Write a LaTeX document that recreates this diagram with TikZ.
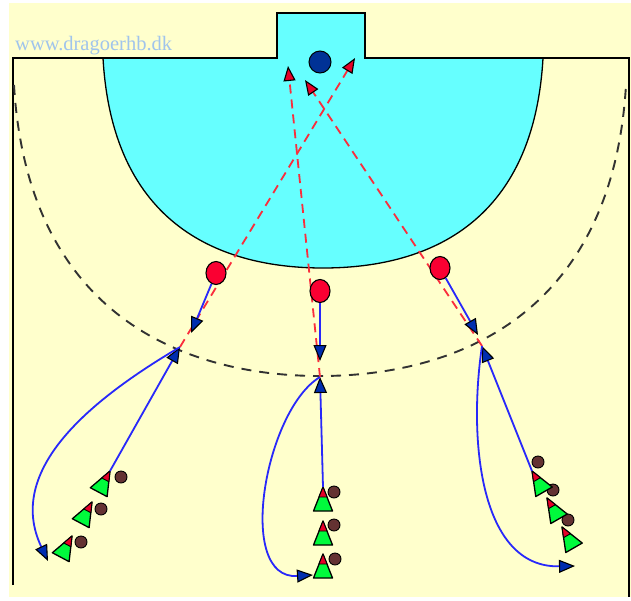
\documentclass[tikz,border=0pt]{standalone}
\usepackage{fontspec}
\setmainfont{Liberation Serif}
\usetikzlibrary{arrows.meta,shapes.geometric}
\definecolor{fieldyellow}{RGB}{255,255,204}
\definecolor{areacyan}{RGB}{102,255,255}
\definecolor{webblue}{RGB}{160,196,236}
\definecolor{runblue}{RGB}{40,40,250}
\definecolor{tipblue}{RGB}{0,45,175}
\definecolor{passred}{RGB}{250,45,60}
\definecolor{shotred}{RGB}{230,0,40}
\definecolor{backred}{RGB}{250,0,50}
\definecolor{bodygreen}{RGB}{0,250,60}
\definecolor{headbrown}{RGB}{100,50,50}
\definecolor{balldark}{RGB}{0,50,150}
\definecolor{arcgray}{RGB}{50,50,50}

\tikzset{
  player/.pic={
    \begin{scope}[rotate=#1]
      \draw[fill=bodygreen,line width=1.3pt,line join=round] (0,0) -- (-9.5,24) -- (9.5,24) -- cycle;
      \draw[fill=shotred,line width=0.9pt,line join=round] (0,0) -- (-4,10) -- (4,10) -- cycle;
      \coordinate (-apex) at (0,0);
    \end{scope}
  }
}

\begin{document}
\begin{tikzpicture}[x=1pt,y=-1pt,
    runline/.style={line width=1.8pt,runblue,-{Triangle[length=16pt,width=13pt,fill=tipblue,color=black,line width=1.1pt]}},
    passline/.style={line width=1.8pt,passred,dash pattern=on 9pt off 6pt,-{Triangle[length=15pt,width=12pt,fill=shotred,color=black,line width=1.1pt]}},
    back/.style={ellipse,draw=black,line width=1.1pt,fill=backred,minimum width=20pt,minimum height=23pt,inner sep=0pt},
    head/.style={circle,draw=black,line width=0.9pt,fill=headbrown,minimum size=12pt,inner sep=0pt}]
  \useasboundingbox (0,0) rectangle (631,600);
  \fill[white] (0,0) rectangle (631,600);
  \fill[fieldyellow] (9,3) rectangle (631,597);

  % goal area and goal
  \fill[areacyan] (103,58) .. controls (113,235) and (233,268) .. (323,268)
    .. controls (413,268) and (533,235) .. (543,58) -- cycle;
  \draw[line width=1.3pt] (103,58) .. controls (113,235) and (233,268) .. (323,268)
    .. controls (413,268) and (533,235) .. (543,58);
  \fill[areacyan] (277,13) rectangle (365,60);
  \draw[line width=1.7pt] (13,585) -- (13,58) -- (277,58) -- (277,13) -- (365,13) -- (365,58) -- (629,58) -- (629,597);
  \node[anchor=base west,inner sep=0pt,text=webblue,font=\fontsize{20.5}{22}\selectfont] (web) at (15,50) {www.dragoerhb.dk};

  % free throw line
  \draw[arcgray,line width=1.9pt,dash pattern=on 10pt off 8pt] (14,85) .. controls (28,320) and (190,376) .. (320,376)
    .. controls (450,376) and (612,320) .. (626,85);

  \node[circle,draw=black,line width=1pt,fill=balldark,minimum size=22pt,inner sep=0pt] (ball) at (320,62) {};

  \coordinate (crossL) at (180,347);
  \coordinate (crossC) at (320,377);
  \coordinate (crossR) at (482,346);
  \coordinate (shotA) at (355,58);
  \coordinate (shotB) at (305,80);
  \coordinate (shotC) at (288,66);
  \coordinate (runL) at (191,333);
  \coordinate (runC) at (320,361);
  \coordinate (runR) at (478,335);
  \coordinate (endL) at (48,561);
  \coordinate (endC) at (313,575);
  \coordinate (endR) at (575,566);

  % passes to the shooters
  \draw[passline] (crossL) -- (shotA);
  \draw[passline] (crossR) -- (shotB);
  \draw[passline] (crossC) -- (shotC);

  % back court players
  \node[back] (backL) at (216,273) {};
  \node[back] (backC) at (320,291) {};
  \node[back] (backR) at (440,268) {};
  \draw[runline] (backL) -- (runL);
  \draw[runline] (backC) -- (runC);
  \draw[runline] (backR) -- (runR);

  % lines of players
  \node[head] (hL1) at (121,477) {};
  \node[head] (hL2) at (101,509) {};
  \node[head] (hL3) at (81,542) {};
  \pic (pL1) at (110,471) {player=-28};
  \pic (pL2) at (92,502) {player=-28};
  \pic (pL3) at (72,536) {player=-28};
  \node[head] (hC1) at (334,492) {};
  \node[head] (hC2) at (334,525) {};
  \node[head] (hC3) at (335,559) {};
  \pic (pC1) at (323,487) {player=0};
  \pic (pC2) at (323,521) {player=0};
  \pic (pC3) at (323,554) {player=0};
  \node[head] (hR1) at (538,462) {};
  \node[head] (hR2) at (553,490) {};
  \node[head] (hR3) at (568,520) {};
  \pic (pR1) at (532,471) {player=30};
  \pic (pR2) at (547,498) {player=30};
  \pic (pR3) at (562,527) {player=30};

  % runs
  \draw[runline] (pL1-apex) -- (crossL);
  \draw[runline] (pC1-apex) -- (crossC);
  \draw[runline] (pR1-apex) -- (crossR);
  \draw[runline] (crossL) .. controls (90,400) and (5,470) .. (endL);
  \draw[runline] (crossC) .. controls (265,410) and (235,580) .. (endC);
  \draw[runline] (crossR) .. controls (468,440) and (480,568) .. (endR);
\end{tikzpicture}
\end{document}
